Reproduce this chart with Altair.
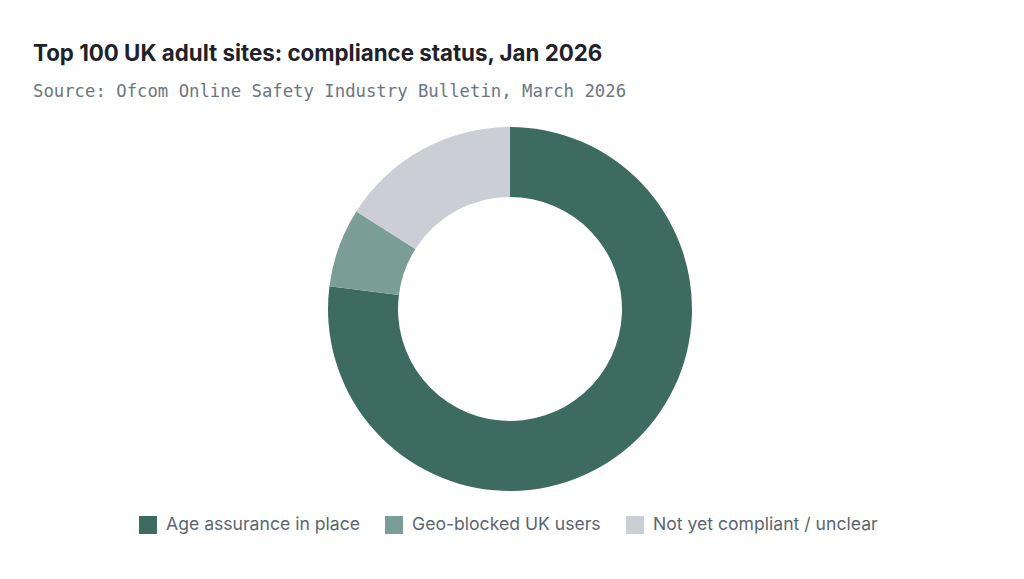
import altair as alt
import pandas as pd

categories = ["Age assurance in place", "Geo-blocked UK users", "Not yet compliant / unclear"]
values = [77, 7, 16]
colors = ["#3d6b60", "#7a9e95", "#cbcfd5"]

df = pd.DataFrame({"status": categories, "share": values, "order": [0, 1, 2]})

chart = (
    alt.Chart(df)
    .mark_arc(innerRadius=112, outerRadius=182, stroke=None)
    .encode(
        theta=alt.Theta("share:Q", stack=True),
        order=alt.Order("order:Q"),
        color=alt.Color(
            "status:N",
            scale=alt.Scale(domain=categories, range=colors),
            sort=categories,
            legend=alt.Legend(
                title=None,
                orient="none",
                direction="horizontal",
                legendX=131,
                legendY=408,
                symbolType="square",
                symbolSize=324,
                symbolStrokeWidth=0,
                labelFont="Inter",
                labelFontSize=17.6,
                labelColor="#5a6670",
                labelLimit=0,
                columnPadding=25,
                symbolOffset=0,
                labelOffset=9,
            ),
        ),
    )
    .properties(
        width=1004,
        height=402,
        padding={"top": 100, "left": 0, "right": 0, "bottom": 61},
        autosize=alt.AutoSizeParams(type="none"),
        title=alt.TitleParams(
            text="Top 100 UK adult sites: compliance status, Jan 2026",
            subtitle="Source: Ofcom Online Safety Industry Bulletin, March 2026",
            anchor="start",
            dx=25,
            font="Inter",
            fontSize=22.3,
            fontWeight="bold",
            color="#1f2329",
            subtitleFont="DejaVu Sans Mono",
            subtitleFontSize=17.3,
            subtitleColor="#6b7680",
            subtitlePadding=17,
            offset=8,
        ),
    )
    .configure_view(stroke=None)
    .configure(background="white")
)

chart.save("out.html", embed_options={"renderer": "svg", "actions": False})
